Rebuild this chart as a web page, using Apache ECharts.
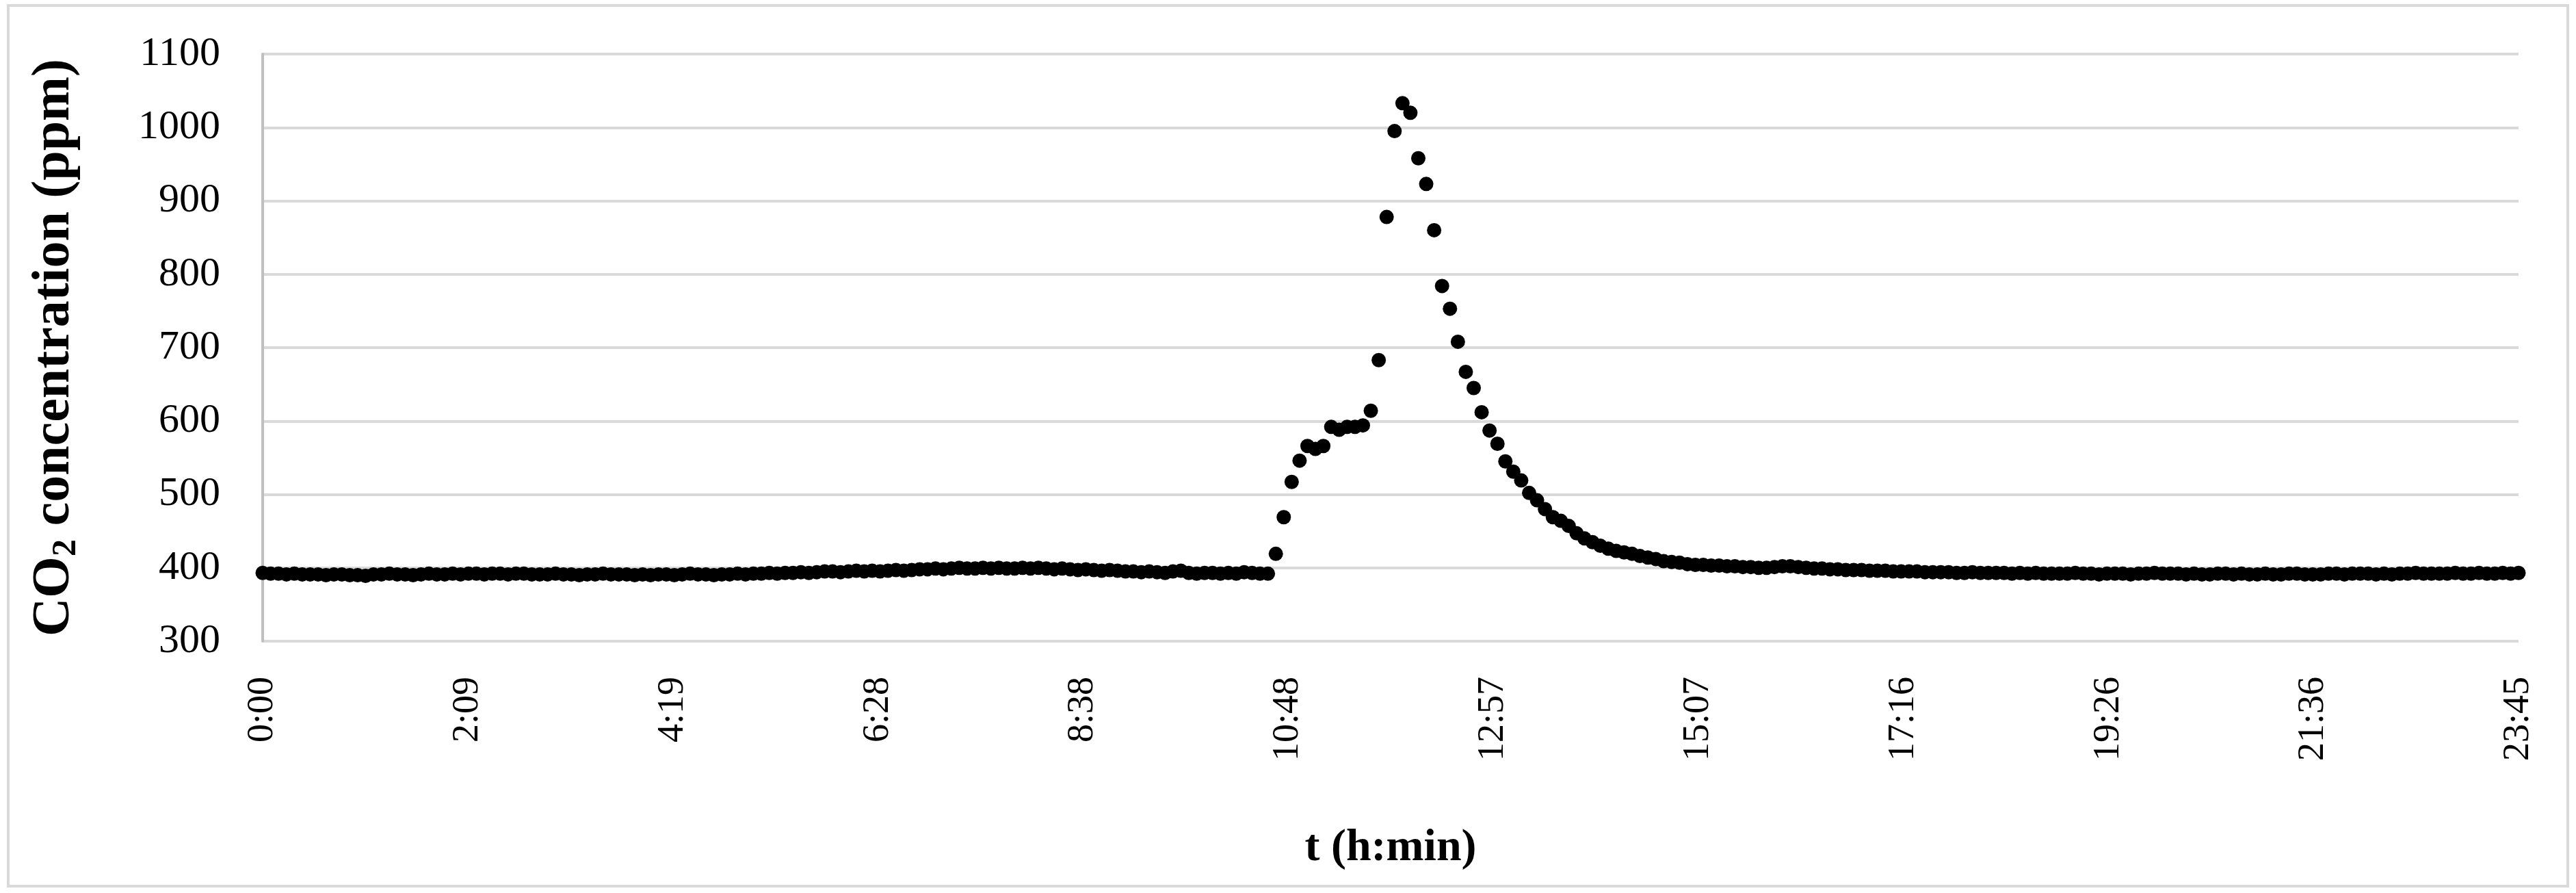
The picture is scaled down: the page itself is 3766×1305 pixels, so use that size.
<!DOCTYPE html>
<html><head><meta charset="utf-8">
<script src="https://cdn.jsdelivr.net/npm/echarts@6/dist/echarts.min.js"></script>
<style>html,body{margin:0;padding:0;background:#fff}#c{width:3766px;height:1305px}</style>
</head><body><div id="c"></div>
<script>
const stepMinutes = 5;
const before = [
393,392,392,391,392,391,391,391,390,391,391,390,
390,389,391,391,392,391,391,390,391,392,391,391,
392,391,392,392,391,392,392,391,392,392,391,391,
391,392,391,391,390,391,391,392,391,391,391,390,
391,390,391,391,390,391,392,391,391,390,391,391,
392,391,392,392,393,392,393,393,394,393,394,395,
395,394,395,396,395,396,395,396,397,396,397,398,
398,399,398,399,400,399,399,400,399,400,399,399,
400,399,400,399,398,399,398,397,398,397,396,397,
396,395,395,394,395,394,393,395,396,393,392,393,
393,392,393,392,394,393,392,392];
const peak = [419,469,517,546,566,562,566,592,588,592,592,594,614,683,878,995,1033,1020,958,923,860,784,753,708,667,645,612,587,569,545,531,519,502,492,480,469,464,457,447,440,435,430,426,423,421,419,416,414,412,409,408,407,405,404,404];
const after = [
403,403,402,402,401,401,400,400,401,402,402,401,
400,399,399,398,398,397,397,397,396,396,396,395,
395,395,395,394,394,394,394,393,393,394,393,393,
393,393,392,393,392,393,392,392,392,392,393,392,
392,391,392,392,392,391,392,392,393,392,392,392,
391,392,391,391,392,392,391,392,391,391,392,391,
391,392,392,391,391,391,392,392,391,392,392,392,
391,392,391,392,392,393,392,392,392,392,393,392,
392,393,392,392,393,392,393];
const xTickLabels = ['0:00','2:09','4:19','6:28','8:38','10:48','12:57','15:07','17:16','19:26','21:36','23:45'];
const values = before.concat(peak, after);
const data = values.map((v,i)=>[i*stepMinutes, v]);
const xMax = 1425, xDivisions = 11, xStep = xMax/xDivisions;
const font = 'Liberation Serif';
const chart = echarts.init(document.getElementById('c'));
chart.setOption({
  animation:false,
  grid:{left:384,right:84,top:79,bottom:368},
  graphic:[{type:'rect',shape:{x:12,y:8,width:3742,height:1287},style:{fill:'none',stroke:'#d9d9d9',lineWidth:4},silent:true}],
  xAxis:{type:'value',min:0,max:xMax,interval:xStep,
    name:'t (h:min)',nameLocation:'middle',nameGap:270,
    nameTextStyle:{fontFamily:font,fontWeight:'bold',fontSize:66,color:'#000'},
    axisLine:{show:false},axisTick:{show:false},splitLine:{show:false},
    axisLabel:{rotate:90,formatter:m=>xTickLabels[Math.round(m/xStep)]||'',fontFamily:font,fontSize:54,color:'#000',margin:52}},
  yAxis:{type:'value',min:300,max:1100,interval:100,
    name:'{a|CO}{s|2}{a| concentration (ppm)}',nameLocation:'middle',nameGap:262,
    nameTextStyle:{rich:{a:{fontFamily:font,fontWeight:'bold',fontSize:78,color:'#000'},
                         s:{fontFamily:font,fontWeight:'bold',fontSize:50,color:'#000',verticalAlign:'bottom',padding:[34,0,0,0]}}},
    axisLine:{show:true,lineStyle:{color:'#bfbfbf',width:4}},axisTick:{show:false},
    splitLine:{lineStyle:{color:'#d9d9d9',width:4}},
    axisLabel:{formatter:v=>String(v),fontFamily:font,fontSize:60,color:'#000',margin:62}},
  series:[{type:'scatter',data:data,symbolSize:21,itemStyle:{color:'#000',opacity:1}}]
});
</script></body></html>
